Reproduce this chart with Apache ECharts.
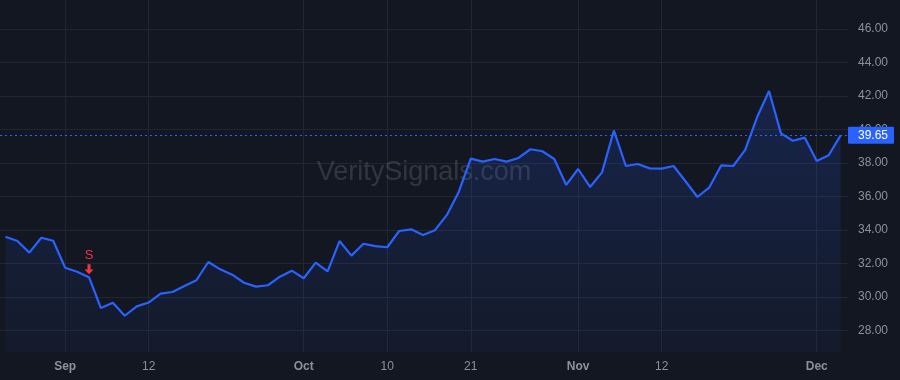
<!DOCTYPE html>
<html>
	<head>
		<meta charset="UTF-8">
		<script type="text/javascript" src="https://cdn.jsdelivr.net/npm/echarts@6/dist/echarts.min.js"></script>
		<title>VeritySignals</title>
		<style>
			html, body { margin: 0; padding: 0; background: #131722; }
			#chart { width: 900px; height: 380px; }
		</style>
	</head>
	<body>
		<div id="chart"></div>
		<script type="text/javascript">
			// trading days, 2024 (MM-DD)
			var dates = [
				'08-26','08-27','08-28','08-29','08-30',
				'09-03','09-04','09-05','09-06','09-09','09-10','09-11','09-12','09-13',
				'09-16','09-17','09-18','09-19','09-20','09-23','09-24','09-25','09-26','09-27','09-30',
				'10-01','10-02','10-03','10-04','10-07','10-08','10-09','10-10','10-11',
				'10-14','10-15','10-16','10-17','10-18','10-21','10-22','10-23','10-24','10-25',
				'10-28','10-29','10-30','10-31',
				'11-01','11-04','11-05','11-06','11-07','11-08','11-11','11-12','11-13','11-14','11-15',
				'11-18','11-19','11-20','11-21','11-22','11-25','11-26','11-27','11-29',
				'12-02','12-03','12-04'
			];
			var prices = [
				33.60, 33.34, 32.65, 33.54, 33.36, 31.75, 31.51, 31.18, 29.34, 29.66, 28.88, 29.44, 29.67,
				30.20, 30.30, 30.66, 31.00, 32.09, 31.65, 31.33, 30.85, 30.62, 30.70, 31.21, 31.57,
				31.12, 32.05, 31.53, 33.34, 32.47, 33.18, 33.04, 32.97, 33.94, 34.04, 33.70, 33.99,
				34.90, 36.29, 38.26, 38.08, 38.24, 38.08, 38.30, 38.82, 38.70, 38.24, 36.69, 37.64,
				36.57, 37.44, 39.93, 37.82, 37.94, 37.68, 37.66, 37.82, 36.91, 35.97, 36.55, 37.86,
				37.82, 38.78, 40.73, 42.30, 39.77, 39.33, 39.51, 38.12, 38.46, 39.65
			];
			var tickDates  = ['09-03','09-12','10-01','10-10','10-21','11-01','11-12','12-02'];
			var tickLabels = ['Sep','12','Oct','10','21','Nov','12','Dec'];
			var priceTicks = [28, 30, 32, 34, 36, 38, 40, 42, 44, 46];
			var signals = [{date: '09-05', text: 'S'}];

			var font = '"Liberation Sans", Arial, sans-serif';
			var gridColor = '#222631';
			var textColor = '#8c909b';
			var blue = '#2962ff';

			var tickIdx = tickDates.map(function (d) { return dates.indexOf(d); });
			var lastPrice = prices[prices.length - 1];

			var myChart = echarts.init(document.getElementById('chart'));
			var option = {
				animation: false,
				backgroundColor: '#131722',
				textStyle: {fontFamily: font},
				grid: {left: 0, right: 52, top: 0, bottom: 28},
				graphic: [{
					type: 'text',
					z: 1,
					style: {
						text: 'VeritySignals.com',
						x: 424, y: 173,
						textAlign: 'center',
						textVerticalAlign: 'middle',
						font: '27px ' + font,
						fill: 'rgba(255,255,255,0.13)'
					}
				}],
				xAxis: {
					type: 'value',
					min: -0.46,
					max: 70.62,
					axisLine: {show: false},
					axisTick: {show: false, customValues: tickIdx},
					splitLine: {show: true, lineStyle: {color: gridColor, width: 1}},
					axisLabel: {
						customValues: tickIdx,
						margin: 9,
						color: textColor,
						fontSize: 12,
						fontFamily: font,
						formatter: function (v) {
							var lab = tickLabels[tickIdx.indexOf(Math.round(v))];
							return /^[A-Z]/.test(lab) ? '{b|' + lab + '}' : lab;
						},
						rich: {b: {fontWeight: 'bold', color: textColor, fontSize: 12, fontFamily: font}}
					}
				},
				yAxis: {
					type: 'value',
					position: 'right',
					min: 26.716,
					max: 47.73,
					axisLine: {show: false},
					axisTick: {show: false, customValues: priceTicks},
					splitLine: {show: true, lineStyle: {color: gridColor, width: 1}},
					axisLabel: {
						customValues: priceTicks,
						margin: 10,
						color: textColor,
						fontSize: 12,
						fontFamily: font,
						formatter: function (v) { return v.toFixed(2); }
					}
				},
				series: [{
					type: 'line',
					data: prices.map(function (p, i) { return [i, p]; }),
					showSymbol: false,
					lineStyle: {color: blue, width: 2.2},
					itemStyle: {color: blue},
					areaStyle: {
						origin: 'start',
						color: new echarts.graphic.LinearGradient(0, 0, 0, 1, [
							{offset: 0, color: 'rgba(41,98,255,0.26)'},
							{offset: 1, color: 'rgba(41,98,255,0.06)'}
						])
					},
					markLine: {
						silent: true,
						symbol: 'none',
						lineStyle: {color: blue, type: [2, 3], width: 1},
						label: {
							position: 'end',
							distance: 0,
							formatter: function (p) { return p.value.toFixed(2); },
							color: '#ffffff',
							fontSize: 12,
							fontFamily: font,
							lineHeight: 13,
							backgroundColor: blue,
							padding: [2, 6, 2, 10],
							borderRadius: 1
						},
						data: [{yAxis: lastPrice}]
					},
					markPoint: {
						silent: true,
						symbol: 'path://M3,0 L6,0 L6,5 L9,5 L4.5,9.5 L0,5 L3,5 Z',
						symbolSize: [9, 10],
						symbolOffset: [0, -8],
						itemStyle: {color: '#f23645'},
						label: {
							show: true,
							position: 'top',
							distance: 2,
							color: '#f23645',
							fontSize: 13,
							fontFamily: font
						},
						data: signals.map(function (s) {
							var i = dates.indexOf(s.date);
							return {coord: [i, prices[i]], value: s.text};
						})
					}
				}]
			};
			myChart.setOption(option);
		</script>
	</body>
</html>
